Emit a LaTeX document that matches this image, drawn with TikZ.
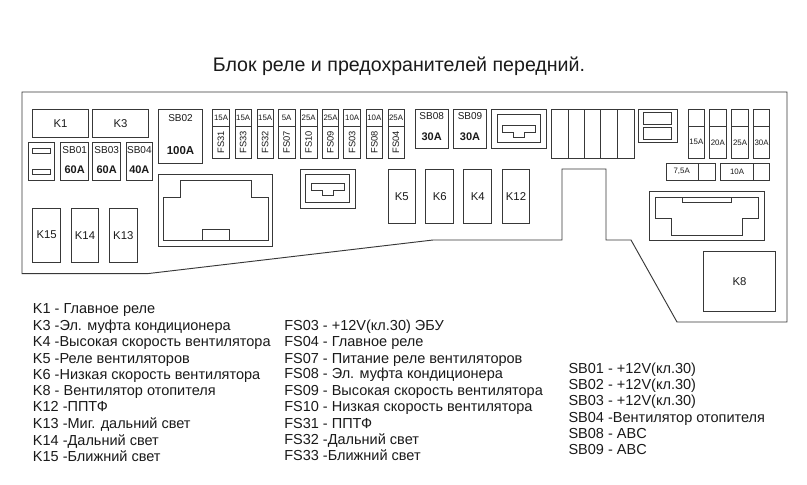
\documentclass[tikz,border=0pt]{standalone}
\usepackage{fontspec}
\setmainfont{Liberation Sans}
\definecolor{linecol}{HTML}{383838}
\definecolor{textcol}{HTML}{1A1A1A}
\tikzset{
  shp/.style={draw=linecol,line width=0.7pt,line join=miter},
  lbl/.style={inner sep=0pt,text=textcol,font=\fontsize{8.5pt}{10pt}\selectfont},
  sb/.style={inner sep=0pt,text=textcol,font=\fontsize{7.5pt}{9pt}\selectfont},
  amp/.style={inner sep=0pt,text=textcol,font=\bfseries\fontsize{8.25pt}{10pt}\selectfont},
  big/.style={inner sep=0pt,text=textcol,font=\bfseries\fontsize{8.6pt}{10pt}\selectfont},
  tiny/.style={inner sep=0pt,text=textcol,font=\fontsize{5.9pt}{7pt}\selectfont},
  fsl/.style={inner sep=0pt,rotate=90,text=textcol,font=\fontsize{7pt}{9pt}\selectfont},
  leg/.style={inner sep=0pt,anchor=base west,text=textcol,font=\fontsize{10.88pt}{12pt}\selectfont},
  ttl/.style={inner sep=0pt,anchor=base,text=textcol,font=\fontsize{14.7pt}{16pt}\selectfont}
}
\newcommand{\relaybox}[5]{\draw[shp] (#1,#2) rectangle (#3,#4) node[midway,lbl] {#5};}
\newcommand{\sbfuse}[9]{\draw[shp] (#1,#2) rectangle (#3,#4);
  \node[sb] at ({(#1+#3)/2},#6) {#5};
  \node[#9] at ({(#1+#3)/2},#8) {#7};}
\newcommand{\fsfuse}[4]{\draw[shp] (#1,109.3) rectangle (#2,158.3);
  \draw[shp] (#1,126) -- (#2,126);
  \node[tiny] at ({(#1+#2)/2},117.5) {#3};
  \node[fsl] at ({(#1+#2)/2},142.5) {#4};}
\newcommand{\rfuse}[3]{\draw[shp] (#1,109.3) rectangle (#2,158.3);
  \draw[shp] (#1,126) -- (#2,126);
  \node[tiny] at ({(#1+#2)/2},142.3) {#3};}
\newcommand{\legline}[3]{\node[leg] at (#1,#2) {#3};}
\begin{document}
\begin{tikzpicture}[x=0.75pt,y=-0.75pt]
\useasboundingbox (0,0) rectangle (807,485);
\fill[white] (0,0) rectangle (807,485);

\node[ttl] at (399,71.7) {Блок реле и предохранителей передний.};

% outline
\draw[shp] (22,92) -- (787,92) -- (787,322) -- (677,322) -- (631,240) -- (606,240) -- (606,169) -- (562,169) -- (562,240) -- (433,240) -- (147,273.7) -- (22,273.7) -- cycle;

% left relays
\relaybox{32.7}{109.3}{88.3}{137}{K1}
\relaybox{92.7}{109.3}{148.3}{137}{K3}
\relaybox{32.7}{208}{60.7}{262.3}{K15}
\relaybox{71.3}{208}{98.7}{262.3}{K14}
\relaybox{109.3}{208}{137.3}{262.3}{K13}

% small fuse holder
\draw[shp] (28,142.3) rectangle (54.7,180.3);
\draw[shp] (32.7,148.3) rectangle (50,153);
\draw[shp] (32.7,169.3) rectangle (50,174.7);

% SB fuses
\sbfuse{60.7}{142.3}{88.7}{180.3}{SB01}{150}{60A}{170}{amp}
\sbfuse{92.7}{142.3}{120.7}{180.3}{SB03}{150}{60A}{170}{amp}
\sbfuse{126}{142.3}{152.7}{180.3}{SB04}{150}{40A}{170}{amp}
\sbfuse{158.3}{109.3}{202.7}{163.7}{SB02}{118}{100A}{151}{big}
\sbfuse{415}{109.3}{448.3}{148.3}{SB08}{116.5}{30A}{136.7}{amp}
\sbfuse{453.3}{109.3}{486.7}{148.3}{SB09}{116.5}{30A}{136.7}{amp}

% large connector left
\draw[shp] (158.3,174.3) rectangle (272.3,246.3);
\draw[shp] (163.7,240.3) -- (163.7,197) -- (180.3,197) -- (180.3,180.3) -- (251.7,180.3) -- (251.7,197) -- (268.3,197) -- (268.3,240.3) -- cycle;
\draw[shp] (202.7,240.3) rectangle (229.3,229.3);

% FS fuses
\fsfuse{212.7}{229.3}{15A}{FS31}
\fsfuse{235}{251.3}{15A}{FS33}
\fsfuse{257}{273.3}{15A}{FS32}
\fsfuse{278.3}{295}{5A}{FS07}
\fsfuse{300.3}{317}{25A}{FS10}
\fsfuse{322.3}{338.7}{25A}{FS09}
\fsfuse{343.7}{360.7}{10A}{FS03}
\fsfuse{366}{382.7}{10A}{FS08}
\fsfuse{388}{404}{25A}{FS04}

% relay sockets with T
\draw[shp] (491.3,109.3) rectangle (546.7,148.3);
\draw[shp] (497,114.7) rectangle (540.7,142.3);
\draw[shp] (502.3,125.7) -- (535.3,125.7) -- (535.3,132) -- (524.3,132) -- (524.3,137.3) -- (513.3,137.3) -- (513.3,132) -- (502.3,132) -- cycle;
\draw[shp] (300.3,169.3) rectangle (355.3,208.3);
\draw[shp] (305.7,174.7) rectangle (349.7,202.7);
\draw[shp] (311.3,183.7) -- (344.3,183.7) -- (344.3,190.3) -- (333.3,190.3) -- (333.3,195.7) -- (322.3,195.7) -- (322.3,190.3) -- (311.3,190.3) -- cycle;

% middle relays
\relaybox{388.3}{169.3}{415.3}{223.7}{K5}
\relaybox{425.7}{169.3}{453.7}{223.7}{K6}
\relaybox{463.7}{169.3}{491.7}{223.7}{K4}
\relaybox{502.3}{169.3}{529.7}{223.7}{K12}

% five cell block
\draw[shp] (551.3,109.3) rectangle (634,158.3);
\draw[shp] (568.3,109.3) -- (568.3,158.3);
\draw[shp] (584.3,109.3) -- (584.3,158.3);
\draw[shp] (600.7,109.3) -- (600.7,158.3);
\draw[shp] (617.3,109.3) -- (617.3,158.3);

% double holder
\draw[shp] (638.7,109.3) rectangle (677.3,142.3);
\draw[shp] (643.7,112.7) rectangle (671.7,124.3);
\draw[shp] (643.7,127.3) rectangle (671.7,139);

% right fuses
\rfuse{688.3}{704.3}{15A}
\rfuse{709.3}{726.3}{20A}
\rfuse{731.3}{748.7}{25A}
\rfuse{753.3}{769.7}{30A}

\draw[shp] (666,163.7) rectangle (715.3,180.3);
\draw[shp] (698.7,163.7) -- (698.7,180.3);
\node[tiny] at (681.7,171.7) {7,5A};
\draw[shp] (720.3,163.7) rectangle (769.7,180.3);
\draw[shp] (753.7,163.7) -- (753.7,180.3);
\node[tiny] at (737,171.7) {10A};

% right connector
\draw[shp] (649.3,191.3) rectangle (764.3,240.3);
\draw[shp] (655,197) -- (655,218.7) -- (671.7,218.7) -- (671.7,235) -- (742.7,235) -- (742.7,218.7) -- (758.7,218.7) -- (758.7,197) -- cycle;
\draw[shp] (682.7,197) rectangle (731.7,202.3);

\relaybox{703.7}{251.7}{775.3}{311.7}{K8}

% legends
\legline{32.7}{313.8}{K1 - Главное реле}
\legline{32.7}{330.3}{K3 -Эл. муфта кондиционера}
\legline{32.7}{346.5}{K4 -Высокая скорость вентилятора}
\legline{32.7}{363}{K5 -Реле вентиляторов}
\legline{32.7}{379}{K6 -Низкая скорость вентилятора}
\legline{32.7}{395}{K8 - Вентилятор отопителя}
\legline{32.7}{411.8}{K12 -ППТФ}
\legline{32.7}{428.5}{K13 -Миг. дальний свет}
\legline{32.7}{445}{K14 -Дальний свет}
\legline{32.7}{461}{K15 -Ближний свет}

\legline{284}{330.8}{FS03 - +12V(кл.30) ЭБУ}
\legline{284}{346.5}{FS04 - Главное реле}
\legline{284}{363}{FS07 - Питание реле вентиляторов}
\legline{284}{378.8}{FS08 - Эл. муфта кондиционера}
\legline{284}{395}{FS09 - Высокая скорость вентилятора}
\legline{284}{411.5}{FS10 - Низкая скорость вентилятора}
\legline{284}{428}{FS31 - ППТФ}
\legline{284}{444.5}{FS32 -Дальний свет}
\legline{284}{460.8}{FS33 -Ближний свет}

\legline{568.3}{373.8}{SB01 - +12V(кл.30)}
\legline{568.3}{389.8}{SB02 - +12V(кл.30)}
\legline{568.3}{405.5}{SB03 - +12V(кл.30)}
\legline{568.3}{422}{SB04 -Вентилятор отопителя}
\legline{568.3}{438.5}{SB08 - ABC}
\legline{568.3}{454.8}{SB09 - ABC}
\end{tikzpicture}
\end{document}
